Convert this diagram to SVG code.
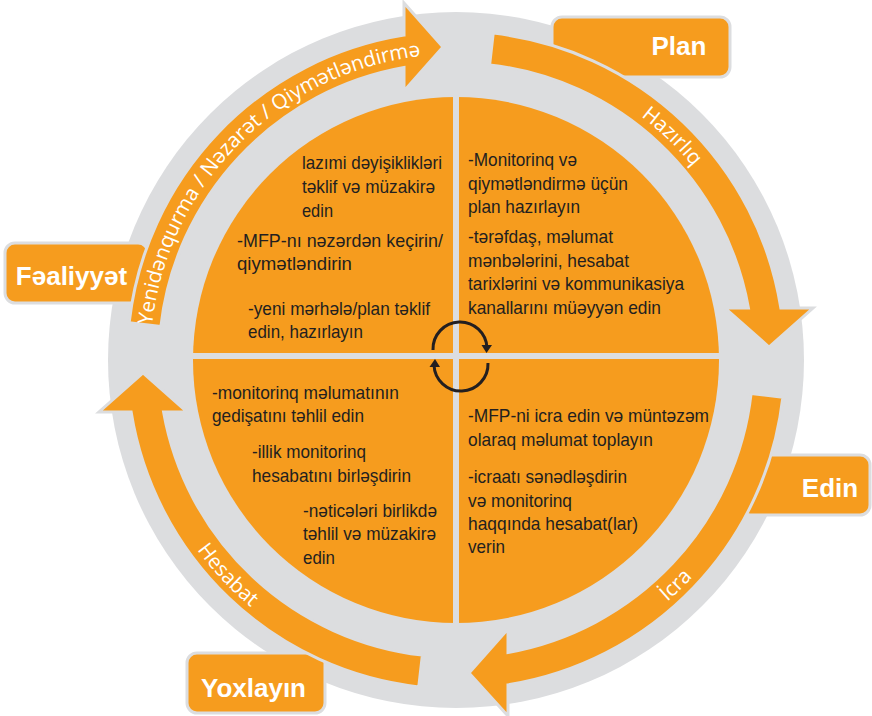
<svg xmlns="http://www.w3.org/2000/svg" width="872" height="716" viewBox="0 0 872 716">
<style>
.box{fill:#f69c1e;stroke:#dcdddf;stroke-width:3}
.lbl{font-family:"Liberation Sans",Arial,sans-serif;font-weight:bold;font-size:26px;fill:#ffffff;text-anchor:middle}
.arrow{fill:#f69c1e;stroke:#dcdddf;stroke-width:3;stroke-linejoin:miter}
.arc{font-family:"Open Sans","DejaVu Sans",sans-serif;font-size:20.5px;fill:#ffffff}
.q{font-family:"Liberation Sans",Arial,sans-serif;font-size:19px;fill:#231f20}
.icon{fill:none;stroke:#231f20;stroke-width:3}
</style>
<defs>
<path id="pYeni" d="M150,360 A306,306 0 0 1 456,54"/>
<path id="pHaz" d="M530.03,63.09 A306,306 0 0 1 750.15,275.65"/>
<path id="pHes" d="M143.61,433.85 A321,321 0 0 0 363.76,667.46"/>
<path id="pIcra" d="M535.29,671.06 A321,321 0 0 0 765.02,446.86"/>
</defs>
<circle id="ring" cx="456" cy="360" r="348" fill="#dcdddf"/>
<g id="plan-box"><rect class="box" x="552" y="17" width="178" height="60" rx="10"/><text class="lbl" x="679" y="55">Plan</text></g>
<g id="edin-box"><rect class="box" x="740" y="455" width="130" height="60" rx="10"/><text class="lbl" x="830" y="497">Edin</text></g>
<g id="yoxlayin-box"><rect class="box" x="187" y="653" width="138" height="60" rx="10"/><text class="lbl" x="253.5" y="697">Yoxlayın</text></g>
<g id="faaliyyet-box"><rect class="box" x="5" y="243" width="143" height="60" rx="10"/><text class="lbl" x="71.5" y="285">Fəaliyyət</text></g>
<g id="disc">
<circle cx="456" cy="360" r="263" fill="#f69c1e"/>
<line x1="456" y1="96" x2="456" y2="624" stroke="#dcdddf" stroke-width="6"/>
<line x1="192" y1="356" x2="720" y2="356" stroke="#dcdddf" stroke-width="6"/>
</g>
<g id="q-top-left">
<text class="q" x="302" y="169" textLength="140" lengthAdjust="spacingAndGlyphs">lazımi dəyişiklikləri</text>
<text class="q" x="302" y="193" textLength="133" lengthAdjust="spacingAndGlyphs">təklif və müzakirə</text>
<text class="q" x="302" y="217" textLength="31" lengthAdjust="spacingAndGlyphs">edin</text>
<text class="q" x="237" y="247" textLength="206" lengthAdjust="spacingAndGlyphs">-MFP-nı nəzərdən keçirin/</text>
<text class="q" x="237" y="270" textLength="115" lengthAdjust="spacingAndGlyphs">qiymətləndirin</text>
<text class="q" x="248" y="315" textLength="182" lengthAdjust="spacingAndGlyphs">-yeni mərhələ/plan təklif</text>
<text class="q" x="248" y="338" textLength="115" lengthAdjust="spacingAndGlyphs">edin, hazırlayın</text>
</g>
<g id="q-top-right">
<text class="q" x="468" y="166" textLength="109" lengthAdjust="spacingAndGlyphs">-Monitorinq və</text>
<text class="q" x="468" y="190" textLength="160" lengthAdjust="spacingAndGlyphs">qiymətləndirmə üçün</text>
<text class="q" x="468" y="213" textLength="112" lengthAdjust="spacingAndGlyphs">plan hazırlayın</text>
<text class="q" x="468" y="243" textLength="145" lengthAdjust="spacingAndGlyphs">-tərəfdaş, məlumat</text>
<text class="q" x="468" y="267" textLength="161" lengthAdjust="spacingAndGlyphs">mənbələrini, hesabat</text>
<text class="q" x="468" y="290" textLength="216" lengthAdjust="spacingAndGlyphs">tarixlərini və kommunikasiya</text>
<text class="q" x="468" y="314" textLength="193" lengthAdjust="spacingAndGlyphs">kanallarını müəyyən edin</text>
</g>
<g id="q-bottom-left">
<text class="q" x="212" y="399" textLength="187" lengthAdjust="spacingAndGlyphs">-monitorinq məlumatının</text>
<text class="q" x="212" y="422" textLength="152" lengthAdjust="spacingAndGlyphs">gedişatını təhlil edin</text>
<text class="q" x="252" y="458" textLength="114" lengthAdjust="spacingAndGlyphs">-illik monitorinq</text>
<text class="q" x="252" y="482" textLength="159" lengthAdjust="spacingAndGlyphs">hesabatını birləşdirin</text>
<text class="q" x="303" y="517" textLength="134" lengthAdjust="spacingAndGlyphs">-nəticələri birlikdə</text>
<text class="q" x="303" y="540" textLength="133" lengthAdjust="spacingAndGlyphs">təhlil və müzakirə</text>
<text class="q" x="303" y="564" textLength="32" lengthAdjust="spacingAndGlyphs">edin</text>
</g>
<g id="q-bottom-right">
<text class="q" x="468" y="422" textLength="241" lengthAdjust="spacingAndGlyphs">-MFP-ni icra edin və müntəzəm</text>
<text class="q" x="468" y="446" textLength="185" lengthAdjust="spacingAndGlyphs">olaraq məlumat toplayın</text>
<text class="q" x="468" y="483" textLength="159" lengthAdjust="spacingAndGlyphs">-icraatı sənədləşdirin</text>
<text class="q" x="468" y="507" textLength="104" lengthAdjust="spacingAndGlyphs">və monitorinq</text>
<text class="q" x="468" y="530" textLength="170" lengthAdjust="spacingAndGlyphs">haqqında hesabat(lar)</text>
<text class="q" x="468" y="553" textLength="37" lengthAdjust="spacingAndGlyphs">verin</text>
</g>
<g id="connectors">
<g id="arrow-hazirliq"><path class="arrow" d="M493.24,33.12 A329,329 0 0 1 780.87,308 L813,308 L769,347 L725,308 L748.41,308 A297,297 0 0 0 489.62,64.91 Z"/>
<text class="arc"><textPath href="#pHaz" startOffset="50%" text-anchor="middle">Hazırlıq</textPath></text></g>
<g id="arrow-icra"><path class="arrow" d="M782.88,397.24 A329,329 0 0 1 508,684.87 L508,716 L469,673 L508,629 L508,652.41 A297,297 0 0 0 751.09,393.62 Z"/>
<text class="arc"><textPath href="#pIcra" startOffset="50%" text-anchor="middle">İcra</textPath></text></g>
<g id="arrow-hesabat"><path class="arrow" d="M418.76,686.88 A329,329 0 0 1 131.13,412 L99,412 L143,373 L187,412 L163.59,412 A297,297 0 0 0 422.38,655.09 Z"/>
<text class="arc"><textPath href="#pHes" startOffset="50%" text-anchor="middle">Hesabat</textPath></text></g>
<g id="arrow-yeni"><path class="arrow" d="M129.12,322.76 A329,329 0 0 1 404,35.13 L404,3 L443,47 L404,91 L404,67.59 A297,297 0 0 0 160.91,326.38 Z"/>
<text class="arc"><textPath href="#pYeni" startOffset="50%" text-anchor="middle" textLength="410" lengthAdjust="spacingAndGlyphs">Yenidənqurma / Nəzarət / Qiymətləndirmə</textPath></text></g>
</g>
<g id="cycle-icon">
<path class="icon" d="M433,350 A27,27 0 0 1 487,348"/>
<polygon points="481.5,345 492,345 486.5,353" fill="#231f20"/>
<path class="icon" d="M488,363 A27,27 0 0 1 434,365"/>
<polygon points="429.5,367 440,367 435,359" fill="#231f20"/>
</g>
</svg>
